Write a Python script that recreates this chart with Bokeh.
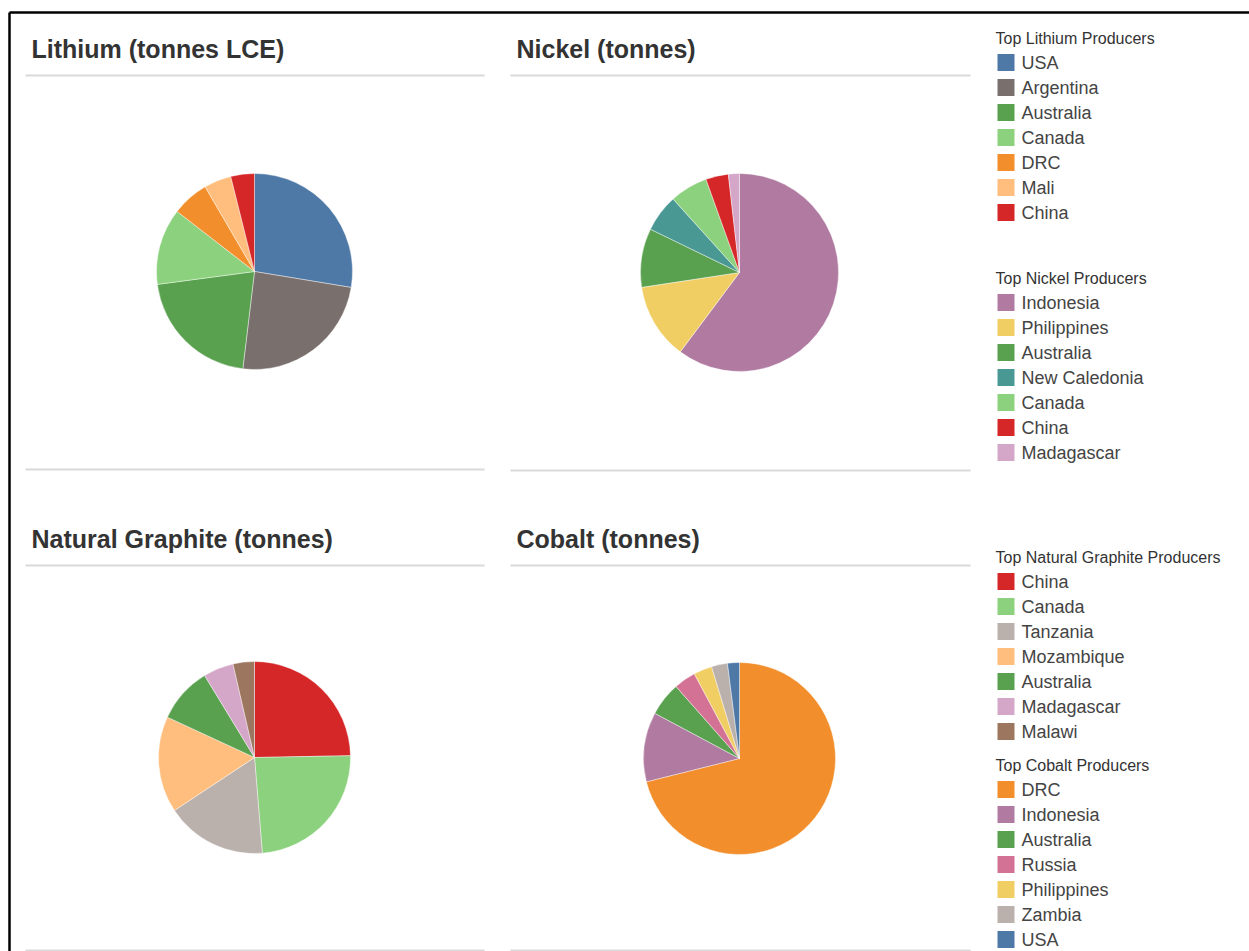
import math
from bokeh.plotting import figure
from bokeh.models import Range1d, ColumnDataSource
from bokeh.core.properties import value
from bokeh.embed import file_html
from bokeh.resources import INLINE

# ---------------- data (shares in % of the total) ----------------
lithium_countries = ["USA", "Argentina", "Australia", "Canada", "DRC", "Mali", "China"]
lithium_share = [27.6, 24.3, 21.0, 12.6, 6.1, 4.5, 3.9]

nickel_countries = ["Indonesia", "Philippines", "Australia", "New Caledonia", "Canada", "China", "Madagascar"]
nickel_share = [60.2, 12.4, 9.6, 6.1, 6.2, 3.7, 1.8]

graphite_countries = ["China", "Canada", "Tanzania", "Mozambique", "Australia", "Madagascar", "Malawi"]
graphite_share = [24.7, 24.0, 17.0, 16.2, 9.4, 5.1, 3.6]

cobalt_countries = ["DRC", "Indonesia", "Australia", "Russia", "Philippines", "Zambia", "USA"]
cobalt_share = [71.1, 11.7, 5.7, 3.7, 3.1, 2.7, 2.0]

panel_titles = ["Lithium (tonnes LCE)", "Nickel (tonnes)", "Natural Graphite (tonnes)", "Cobalt (tonnes)"]
legend_titles = ["Top Lithium Producers", "Top Nickel Producers",
                 "Top Natural Graphite Producers", "Top Cobalt Producers"]

# ---------------- styles ----------------
country_color = {
    "USA": "#4E79A7", "Argentina": "#79706E", "Australia": "#59A14F", "Canada": "#8CD17D",
    "DRC": "#F28E2B", "Mali": "#FFBE7D", "Mozambique": "#FFBE7D", "China": "#D62728",
    "Indonesia": "#B07AA1", "Philippines": "#F1CE63", "New Caledonia": "#499894",
    "Madagascar": "#D4A6C8", "Tanzania": "#BAB0AC", "Zambia": "#BAB0AC",
    "Malawi": "#9D7660", "Russia": "#D37295",
}

W, H = 1249, 951
FONT = value("Liberation Sans")

p = figure(width=W, height=H, x_range=Range1d(0, W), y_range=Range1d(0, H),
           output_backend="svg", toolbar_location=None, min_border=0)
p.axis.visible = False
p.grid.visible = False
p.outline_line_color = None
p.background_fill_color = "white"
p.border_fill_color = "white"


def Y(y_top):
    """convert top-down pixel position to data y"""
    return H - y_top


# outer black frame (top and left)
p.segment(x0=[9, 9], y0=[Y(12), Y(12)], x1=[W, 9], y1=[Y(12), Y(H)],
          line_color="black", line_width=2.5)

# panels: (title x, title centre y, rule left, rule right, top rule y, bottom rule y, pie cx, pie cy, radius)
panels = [
    (31, 48, 25, 484, 75, 469, 254, 271, 98),
    (516, 48, 510, 970, 75, 470, 739, 272, 99),
    (31, 538, 25, 484, 565, 950, 254, 757, 96),
    (516, 538, 510, 970, 565, 950, 739, 758, 96),
]
datasets = [
    (lithium_countries, lithium_share),
    (nickel_countries, nickel_share),
    (graphite_countries, graphite_share),
    (cobalt_countries, cobalt_share),
]

for (tx, tc, rl, rr, rt, rb, cx, cy, rad), title, (names, shares) in zip(panels, panel_titles, datasets):
    p.text(x=[tx], y=[Y(tc)], text=[title], text_font=FONT, text_font_size="25px",
           text_font_style="bold", text_color="#333333", text_baseline="middle",
           text_align="left")
    p.segment(x0=[rl, rl], y0=[Y(rt), Y(rb)], x1=[rr, rr], y1=[Y(rt), Y(rb)],
              line_color="#d9d9d9", line_width=2)
    total = float(sum(shares))
    starts, ends = [], []
    c = 0.0
    for s in shares:
        starts.append(math.pi / 2 - 2 * math.pi * c / total)
        c += s
        ends.append(math.pi / 2 - 2 * math.pi * c / total)
    src = ColumnDataSource(dict(
        x=[cx] * len(shares), y=[Y(cy)] * len(shares),
        start=starts, end=ends,
        color=[country_color[n] for n in names],
    ))
    p.wedge(x="x", y="y", radius=rad, radius_units="screen", start_angle="start",
            end_angle="end", direction="clock", fill_color="color",
            line_color="white", line_width=0.6, line_alpha=0.7, source=src)

# legends: (title centre y, first row centre y)
legend_pos = [(38, 62), (278, 302), (557, 581), (765, 789)]
ROW = 25
for (tc, r0), ltitle, (names, shares) in zip(legend_pos, legend_titles, datasets):
    p.text(x=[995], y=[Y(tc)], text=[ltitle], text_font=FONT, text_font_size="16px",
           text_color="#333333", text_baseline="middle", text_align="left")
    ys = [Y(r0 + i * ROW) for i in range(len(names))]
    p.rect(x=[1005.5] * len(names), y=ys, width=17, height=17,
           width_units="screen", height_units="screen",
           fill_color=[country_color[n] for n in names], line_color=None)
    p.text(x=[1021] * len(names), y=ys,
           text=names, text_font=FONT, text_font_size="18px", text_color="#444444",
           text_baseline="middle", text_align="left")

open("out.html", "w").write(file_html(p, INLINE))
